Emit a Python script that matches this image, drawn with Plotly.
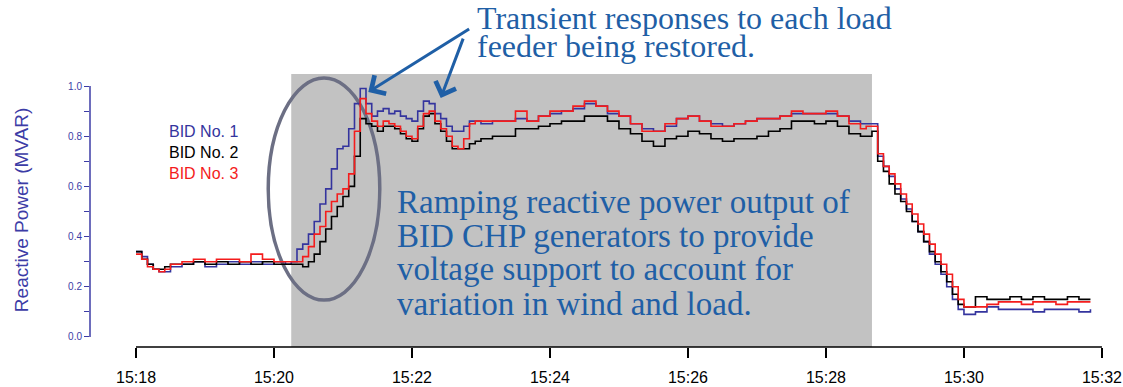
import plotly.graph_objects as go

# Seconds after 15:18:00 for each sample
t_sec = [0, 5, 10, 15, 20, 25, 30, 40, 50, 60, 70, 80, 90, 100, 110, 120, 130,
         135, 140, 145, 150, 155, 160, 165, 170, 175, 180, 185, 190, 195, 200, 205,
         210, 215, 220, 225, 230, 235, 240, 245, 250, 255, 260, 265, 270, 275, 280,
         285, 290, 295,
         300, 310, 320, 330, 340, 350, 360, 370, 380, 390, 400, 410, 420, 430, 440,
         450, 460, 470, 480, 490, 500, 510, 520, 530, 540, 550, 560, 570, 580, 590,
         600, 610, 620, 630,
         635, 640,
         645, 650, 655, 660, 665, 670, 675, 680, 685, 690, 695, 700, 705, 710, 715, 720,
         730, 740, 750, 760, 770, 780, 790, 800, 810, 820, 830]

bid1 = [0.34, 0.32, 0.29, 0.27, 0.26, 0.26, 0.28, 0.29, 0.30, 0.28, 0.29, 0.30, 0.29, 0.30, 0.29, 0.30, 0.29,
        0.30, 0.35, 0.37, 0.41, 0.46, 0.53, 0.59, 0.67, 0.75, 0.76, 0.83, 0.93, 0.99, 0.93, 0.88,
        0.90, 0.91, 0.89, 0.90, 0.88, 0.87, 0.86, 0.90, 0.94, 0.93, 0.89, 0.87, 0.84, 0.82, 0.82,
        0.84, 0.86, 0.86,
        0.85, 0.86, 0.86, 0.87, 0.86, 0.88, 0.89, 0.90, 0.91, 0.93, 0.92, 0.89, 0.88, 0.85, 0.83,
        0.82, 0.84, 0.87, 0.88, 0.86, 0.85, 0.84, 0.85, 0.86, 0.87, 0.87, 0.88, 0.89, 0.89, 0.89,
        0.89, 0.88, 0.86, 0.85,
        0.85, 0.85,
        0.72, 0.68, 0.64, 0.59, 0.55, 0.51, 0.46, 0.42, 0.38, 0.33, 0.29, 0.25, 0.20, 0.15, 0.11, 0.09,
        0.10, 0.12, 0.11, 0.11, 0.11, 0.10, 0.11, 0.11, 0.11, 0.10, 0.11]

bid2 = [0.34, 0.31, 0.29, 0.27, 0.27, 0.28, 0.29, 0.29, 0.30, 0.29, 0.30, 0.29, 0.30, 0.29, 0.30, 0.29, 0.29,
        0.29, 0.29, 0.28, 0.30, 0.33, 0.38, 0.43, 0.48, 0.52, 0.56, 0.60, 0.72, 0.87, 0.85, 0.84,
        0.82, 0.84, 0.84, 0.83, 0.81, 0.79, 0.78, 0.83, 0.88, 0.89, 0.85, 0.82, 0.78, 0.75, 0.75,
        0.75, 0.77, 0.78,
        0.79, 0.80, 0.80, 0.83, 0.83, 0.84, 0.85, 0.86, 0.86, 0.88, 0.88, 0.86, 0.83, 0.81, 0.78,
        0.76, 0.79, 0.80, 0.82, 0.81, 0.79, 0.78, 0.79, 0.79, 0.80, 0.82, 0.83, 0.86, 0.86, 0.85,
        0.86, 0.84, 0.81, 0.80,
        0.80, 0.82,
        0.70, 0.66, 0.61, 0.57, 0.54, 0.50, 0.46, 0.42, 0.38, 0.34, 0.30, 0.26, 0.22, 0.17, 0.13, 0.12,
        0.16, 0.15, 0.15, 0.16, 0.15, 0.16, 0.15, 0.15, 0.16, 0.15, 0.15]

bid3 = [0.33, 0.31, 0.28, 0.27, 0.26, 0.27, 0.29, 0.30, 0.31, 0.30, 0.31, 0.31, 0.30, 0.33, 0.31, 0.30, 0.30,
        0.30, 0.30, 0.32, 0.36, 0.41, 0.44, 0.50, 0.54, 0.57, 0.59, 0.65, 0.82, 0.95, 0.89, 0.86,
        0.84, 0.86, 0.85, 0.84, 0.82, 0.80, 0.79, 0.84, 0.89, 0.90, 0.86, 0.83, 0.80, 0.76, 0.75,
        0.79, 0.85, 0.86,
        0.86, 0.86, 0.86, 0.90, 0.86, 0.88, 0.90, 0.90, 0.92, 0.94, 0.92, 0.90, 0.88, 0.85, 0.82,
        0.82, 0.85, 0.87, 0.88, 0.86, 0.84, 0.84, 0.85, 0.86, 0.87, 0.87, 0.88, 0.90, 0.89, 0.89,
        0.90, 0.88, 0.85, 0.83,
        0.84, 0.84,
        0.73, 0.68, 0.65, 0.61, 0.57, 0.53, 0.49, 0.45, 0.41, 0.37, 0.33, 0.29, 0.25, 0.20, 0.15, 0.12,
        0.12, 0.13, 0.14, 0.14, 0.13, 0.14, 0.14, 0.13, 0.14, 0.14, 0.14]

series_names = ["BID No. 1", "BID No. 2", "BID No. 3"]
series_colors = ["#34349e", "#000000", "#f41c1c"]

x_tick_labels = ["15:18", "15:20", "15:22", "15:24", "15:26", "15:28", "15:30", "15:32"]
y_tick_vals = [0.0, 0.1, 0.2, 0.3, 0.4, 0.5, 0.6, 0.7, 0.8, 0.9, 1.0]
y_tick_text = ["0.0", "", "0.2", "", "0.4", "", "0.6", "", "0.8", "", "1.0"]

# Restoration window (seconds after 15:18)
restore_start, restore_end = 135, 640


def label_to_sec(lbl):
    h, m = lbl.split(":")
    return (int(h) * 60 + int(m) - (15 * 60 + 18)) * 60


x_tick_vals = [label_to_sec(s) for s in x_tick_labels]

fig = go.Figure()
for name, vals, col in zip(series_names, [bid1, bid2, bid3], series_colors):
    fig.add_trace(go.Scatter(x=t_sec, y=vals, mode="lines", name=name,
                             line=dict(color=col, width=1.6, shape="hv"),
                             showlegend=False))

text_blue = "#1f5fa6"
axis_blue = "#3c3ca6"
serif = "Liberation Serif, Times New Roman, serif"
sans = "Liberation Sans, Arial"

shapes = [
    dict(type="rect", xref="x", yref="paper", x0=restore_start, x1=restore_end,
         y0=0, y1=1, fillcolor="#c2c2c2", line=dict(width=0), layer="below"),
    dict(type="circle", xref="x", yref="y", x0=115, x1=212, y0=0.147, y1=1.032,
         line=dict(color="#6c6f84", width=3.5), layer="below"),
    # axis lines spanning only the tick range
    dict(type="line", xref="paper", yref="y", x0=0, x1=0, y0=0, y1=1,
         line=dict(color=axis_blue, width=1.5)),
    dict(type="line", xref="x", yref="paper", x0=x_tick_vals[0], x1=x_tick_vals[-1],
         y0=0, y1=0, line=dict(color="#000000", width=1.5)),
]

annotations = []
# Legend entries as coloured text
for i, (name, col) in enumerate(zip(series_names, series_colors)):
    annotations.append(dict(x=27, y=0.817 - 0.082 * i, xref="x", yref="y", text=name,
                            showarrow=False, xanchor="left", yanchor="middle",
                            font=dict(family=sans, size=16, color=col)))

# Y axis title
annotations.append(dict(x=-0.067, y=0.50, xref="paper", yref="paper",
                        text="Reactive Power (MVAR)", textangle=-90, showarrow=False,
                        xanchor="center", yanchor="middle",
                        font=dict(family=sans, size=19, color=axis_blue)))

# Callout text above the plot
for txt, ypos in [("Transient responses to each load", 1.205),
                  ("feeder being restored.", 1.103)]:
    annotations.append(dict(x=295, y=ypos, xref="x", yref="paper", text=txt, showarrow=False,
                            xanchor="left", yanchor="middle",
                            font=dict(family=serif, size=32, color=text_blue)))

# Callout text inside the restoration window
for txt, ypos in [("Ramping reactive power output of", 0.538),
                  ("BID CHP generators to provide", 0.402),
                  ("voltage support to account for", 0.271),
                  ("variation in wind and load.", 0.131)]:
    annotations.append(dict(x=225, y=ypos, xref="x", yref="y", text=txt, showarrow=False,
                            xanchor="left", yanchor="middle",
                            font=dict(family=serif, size=33, color=text_blue)))

# Arrows pointing to the transient peaks
for (hx, hy, tx, ty) in [(202, 0.976, 291, 1.231), (265, 0.952, 285, 1.195)]:
    annotations.append(dict(x=hx, y=hy, ax=tx, ay=ty, xref="x", yref="y",
                            axref="x", ayref="y", text="", showarrow=True,
                            arrowhead=4, arrowsize=1.4, arrowwidth=3,
                            arrowcolor=text_blue, standoff=0))

fig.update_layout(
    width=1123, height=387,
    margin=dict(l=90, r=13, t=74, b=40),
    paper_bgcolor="white", plot_bgcolor="white",
    shapes=shapes, annotations=annotations,
    xaxis=dict(range=[-40, 847], tickvals=x_tick_vals, ticktext=x_tick_labels,
               ticks="outside", ticklen=10, tickwidth=1.5, tickcolor="#000000",
               showgrid=False, zeroline=False, showline=False, automargin=False,
               ticklabelstandoff=6,
               tickfont=dict(family=sans, size=16, color="#000000")),
    yaxis=dict(range=[-0.04, 1.048], tickvals=y_tick_vals, ticktext=y_tick_text,
               ticks="outside", ticklen=5, tickwidth=1.3, tickcolor=axis_blue,
               showgrid=False, zeroline=False, showline=False, automargin=False,
               tickfont=dict(family=sans, size=10, color=axis_blue)),
)

fig.write_html("out.html")
